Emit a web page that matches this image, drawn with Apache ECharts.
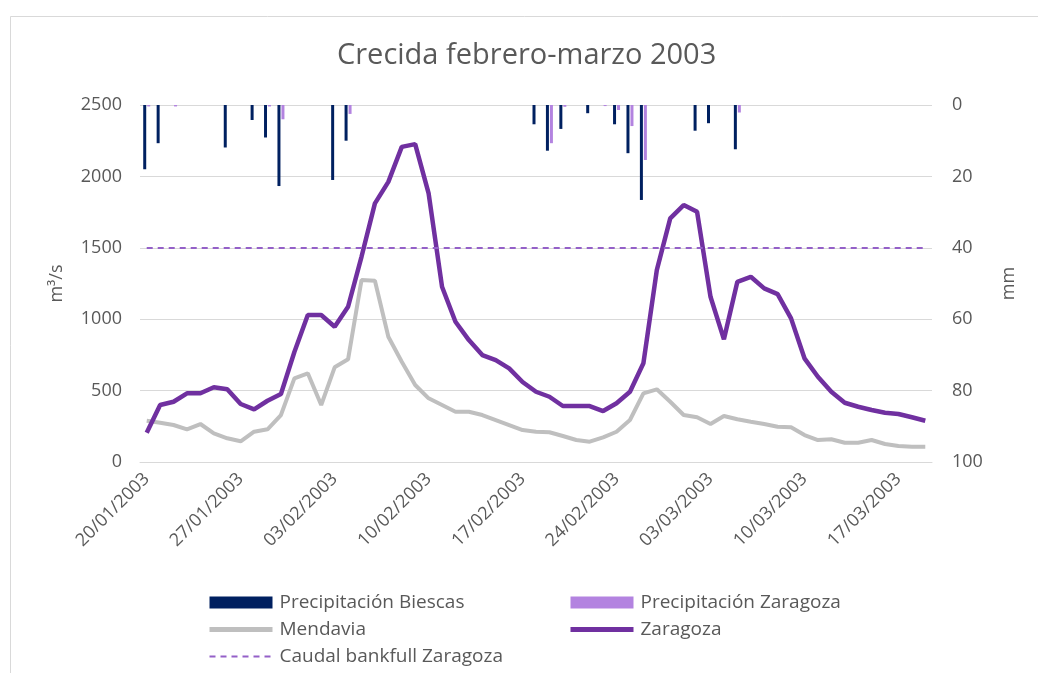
<!DOCTYPE html>
<html>
<head>
<meta charset="utf-8">
<script src="https://cdn.jsdelivr.net/npm/echarts@6/dist/echarts.min.js"></script>
<style>
  html, body { margin: 0; padding: 0; background: #fff; }
  #chart { width: 1038px; height: 673px; }
</style>
</head>
<body>
<div id="chart"></div>
<script>
  // dias 20/01/2003 - 19/03/2003
  var dates = [
    '20/01/2003','21/01/2003','22/01/2003','23/01/2003','24/01/2003','25/01/2003','26/01/2003',
    '27/01/2003','28/01/2003','29/01/2003','30/01/2003','31/01/2003','01/02/2003','02/02/2003',
    '03/02/2003','04/02/2003','05/02/2003','06/02/2003','07/02/2003','08/02/2003','09/02/2003',
    '10/02/2003','11/02/2003','12/02/2003','13/02/2003','14/02/2003','15/02/2003','16/02/2003',
    '17/02/2003','18/02/2003','19/02/2003','20/02/2003','21/02/2003','22/02/2003','23/02/2003',
    '24/02/2003','25/02/2003','26/02/2003','27/02/2003','28/02/2003','01/03/2003','02/03/2003',
    '03/03/2003','04/03/2003','05/03/2003','06/03/2003','07/03/2003','08/03/2003','09/03/2003',
    '10/03/2003','11/03/2003','12/03/2003','13/03/2003','14/03/2003','15/03/2003','16/03/2003',
    '17/03/2003','18/03/2003','19/03/2003'
  ];
  // caudal m3/s
  var zaragoza = [205,399,422,481,481,523,509,406,369,429,
                  476,770,1029,1029,947,1087,1437,1811,1962,2207,
                  2226,1881,1227,982,854,749,714,656,560,492,
                  457,392,392,392,357,411,492,691,1344,1706,
                  1799,1752,1157,859,1262,1297,1216,1176,1006,726,
                  597,492,415,387,364,345,336,313,289];
  var mendavia = [289,275,259,229,266,201,166,145,212,229,
                  329,586,621,399,663,719,1274,1269,877,702,
                  539,446,399,352,352,329,294,259,224,212,
                  208,182,154,142,173,212,294,481,509,422,
                  329,313,266,322,299,282,266,247,243,189,
                  154,159,135,135,154,126,112,107,107];
  // precipitacion mm
  var precBiescas = [18,10.7,0,0,0,0,11.9,0,4.2,9.1,
                     22.7,0,0,0,21,10,0,0,0,0,
                     0,0,0,0,0,0,0,0,0,5.4,
                     12.8,6.7,0,2.3,0,5.4,13.5,26.6,0,0,
                     0,7.2,5.1,0,12.4,0,0,0,0,0,
                     0,0,0,0,0,0,0,0,0];
  var precZaragoza = [0.4,0,0.4,0,0,0,0,0,0,0.4,
                      4,0,0,0,0,2.5,0,0,0,0,
                      0,0,0,0,0,0,0,0,0,0,
                      10.7,0.5,0,0,0.3,1.4,5.9,15.4,0,0,
                      0,0,0,0,2.1,0,0,0,0,0,
                      0,0,0,0,0,0,0,0,0];
  var bankfull = 1500;

  var txt = '#595959';
  var font = 'Open Sans';
  var legendText = { color: txt, fontSize: 19, fontFamily: font, padding: [0, 0, 0, 2] };
  var myChart = echarts.init(document.getElementById('chart'));
  var option = {
    animation: false,
    backgroundColor: '#fff',
    textStyle: { fontFamily: font },
    graphic: [{
      type: 'rect',
      left: 8, top: 14,
      shape: { width: 1100, height: 700 },
      style: { fill: 'none', stroke: '#D9D9D9', lineWidth: 1 },
      silent: true
    }],
    title: {
      text: 'Crecida febrero-marzo 2003',
      left: 332, top: 36,
      textStyle: { color: txt, fontSize: 29, fontWeight: 'normal', fontFamily: font }
    },
    legend: [{
      orient: 'vertical',
      left: 207, top: 593, padding: 0,
      itemWidth: 63, itemHeight: 12, itemGap: 8,
      textStyle: legendText,
      data: [{ name: 'Precipitación Biescas', icon: 'rect' },
             { name: 'Mendavia', itemStyle: { opacity: 0 }, lineStyle: { width: 5 } },
             { name: 'Caudal bankfull Zaragoza', itemStyle: { opacity: 0 }, lineStyle: { width: 2 } }]
    }, {
      orient: 'vertical',
      left: 568, top: 593, padding: 0,
      itemWidth: 63, itemHeight: 12, itemGap: 8,
      textStyle: legendText,
      data: [{ name: 'Precipitación Zaragoza', icon: 'rect' },
             { name: 'Zaragoza', itemStyle: { opacity: 0 }, lineStyle: { width: 5 } }]
    }],
    grid: { left: 140, right: 106, top: 105, bottom: 211 },
    xAxis: {
      type: 'category',
      data: dates,
      boundaryGap: true,
      axisLine: { lineStyle: { color: '#D9D9D9' } },
      axisTick: { show: false },
      axisLabel: {
        color: txt, fontSize: 18, fontFamily: font,
        rotate: 45, interval: 6, margin: 14
      }
    },
    yAxis: [{
      type: 'value',
      min: 0, max: 2500, interval: 500,
      name: 'm³/s', nameLocation: 'middle', nameGap: 74, nameRotate: 90,
      nameTextStyle: { color: txt, fontSize: 18, fontFamily: font },
      axisLine: { show: false },
      axisTick: { show: false },
      axisLabel: { color: txt, fontSize: 18, fontFamily: font, margin: 18,
        formatter: function (v) { return String(v); } },
      splitLine: { lineStyle: { color: '#D9D9D9' } }
    }, {
      type: 'value',
      min: 0, max: 100, interval: 20,
      inverse: true,
      name: 'mm', nameLocation: 'middle', nameGap: 68, nameRotate: 90,
      nameTextStyle: { color: txt, fontSize: 18, fontFamily: font },
      axisLine: { show: false },
      axisTick: { show: false },
      axisLabel: { color: txt, fontSize: 18, fontFamily: font, margin: 20 },
      splitLine: { show: false }
    }],
    series: [{
      name: 'Precipitación Biescas',
      type: 'bar',
      yAxisIndex: 1,
      barWidth: 3,
      barGap: '33%',
      itemStyle: { color: '#002060' },
      data: precBiescas
    }, {
      name: 'Precipitación Zaragoza',
      type: 'bar',
      yAxisIndex: 1,
      barWidth: 3,
      barGap: '33%',
      itemStyle: { color: '#B383E0' },
      data: precZaragoza
    }, {
      name: 'Mendavia',
      type: 'line',
      symbol: 'none',
      lineStyle: { color: '#BFBFBF', width: 4 },
      itemStyle: { color: '#BFBFBF' },
      data: mendavia
    }, {
      name: 'Zaragoza',
      type: 'line',
      symbol: 'none',
      lineStyle: { color: '#7030A0', width: 4.5 },
      itemStyle: { color: '#7030A0' },
      data: zaragoza
    }, {
      name: 'Caudal bankfull Zaragoza',
      type: 'line',
      symbol: 'none',
      lineStyle: { color: '#9460C8', width: 2, type: [6, 5] },
      itemStyle: { color: '#9460C8' },
      data: [],
      markLine: {
        silent: true,
        symbol: 'none',
        label: { show: false },
        lineStyle: { color: '#9460C8', width: 2, type: [6, 5] },
        data: [[{ coord: [dates[0], bankfull] }, { coord: [dates[dates.length - 1], bankfull] }]]
      }
    }]
  };
  myChart.setOption(option);
</script>
</body>
</html>
